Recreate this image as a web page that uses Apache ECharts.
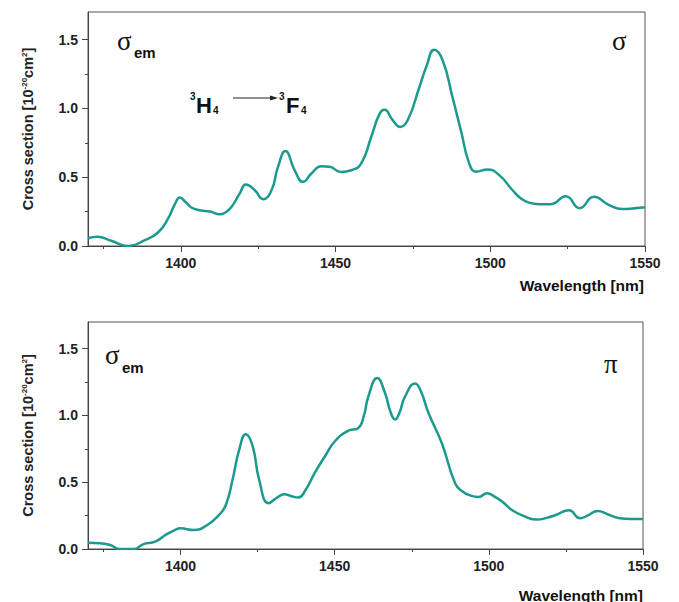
<!DOCTYPE html>
<html><head><meta charset="utf-8">
<script src="https://cdn.jsdelivr.net/npm/echarts@6/dist/echarts.min.js"></script>
<style>html,body{margin:0;padding:0;background:#fff}#c{width:679px;height:602px}</style>
</head><body><div id="c"></div>
<script>
// sigma polarisation (top panel)
const sigmaWl = [1370,1373,1377.5,1383,1388.4,1392.7,1395.9,1398,1399.7,1401.5,1403.4,1406.1,1409.5,1412.6,1414.5,1416.4,1419,1421,1423.9,1426.6,1429.3,1431.4,1433.8,1436.8,1439.5,1442.2,1445.4,1448.1,1451.8,1455.1,1458.3,1461.5,1464.2,1465.8,1468.5,1470.9,1473.3,1477.1,1479.3,1481.9,1484.6,1487.8,1490.5,1493.2,1495.4,1499.1,1502.9,1507.2,1509.9,1512.5,1515.8,1519.6,1524.4,1528.9,1533.5,1538.4,1542.7,1546,1549.1,1550];
const sigmaVal = [0.056,0.067,0.038,0.0,0.043,0.10,0.2,0.3,0.353,0.32,0.28,0.26,0.25,0.23,0.245,0.285,0.38,0.447,0.405,0.34,0.405,0.575,0.69,0.55,0.466,0.527,0.58,0.575,0.538,0.55,0.6,0.79,0.96,0.99,0.913,0.865,0.913,1.155,1.30,1.425,1.35,1.08,0.84,0.6,0.54,0.556,0.515,0.405,0.345,0.315,0.304,0.304,0.362,0.275,0.357,0.297,0.268,0.272,0.28,0.28];
// pi polarisation (bottom panel)
const piWl = [1370,1373.9,1377.2,1380.4,1384.8,1388,1391.8,1395.1,1398,1400,1404.3,1408.7,1412.5,1414.7,1416.9,1419,1421.2,1423.4,1425.5,1428.6,1431,1433.7,1436,1438.2,1440.5,1443.5,1447,1450,1454.3,1457.6,1459.5,1460.9,1463.8,1466.3,1468.2,1469.6,1471,1472.8,1476.1,1478,1480.4,1484.8,1489.1,1491.5,1493.5,1496.7,1499.4,1502,1504.3,1507.6,1511,1515.7,1519,1521.7,1526,1529.6,1532,1535.3,1538.5,1542.4,1546,1550];
const piVal = [0.047,0.043,0.03,0.0,0.0,0.037,0.055,0.105,0.14,0.155,0.142,0.18,0.255,0.33,0.52,0.74,0.86,0.77,0.52,0.343,0.38,0.41,0.395,0.385,0.44,0.568,0.7,0.805,0.885,0.905,1.0,1.14,1.28,1.17,1.02,0.97,1.02,1.14,1.24,1.18,1.02,0.79,0.49,0.43,0.405,0.39,0.418,0.39,0.355,0.29,0.25,0.22,0.235,0.255,0.29,0.23,0.25,0.285,0.26,0.23,0.224,0.225];

const xMajorTicks = [1400,1450,1500,1550];
const xMinorTicks = [1375,1425,1475,1525];
const yMajorTicks = [0,0.5,1.0,1.5];
const yMinorTicks = [0.25,0.75,1.25];

const FONT = "'Liberation Sans', Arial, sans-serif";
const SERIF = "'Liberation Serif', 'Times New Roman', serif";
const LINE = '#1b9a8d';
const AX = '#444';

function pairs(xs, ys){ return xs.map((x,i)=>[x, ys[i]]); }

function xAxes(g){
  return [
    {gridIndex:g, type:'value', min:1370, max:1550, position:'bottom',
     axisLine:{show:true, lineStyle:{color:AX, width:1}},
     axisTick:{show:true, customValues:xMajorTicks, length:6, lineStyle:{color:AX}},
     axisLabel:{customValues:xMajorTicks, margin:10, formatter:v=>String(v), fontFamily:FONT, fontSize:14, fontWeight:'bold', color:'#222'},
     splitLine:{show:false}},
    {gridIndex:g, type:'value', min:1370, max:1550, position:'bottom',
     axisLine:{show:false},
     axisTick:{show:true, customValues:xMinorTicks, length:3, lineStyle:{color:AX}},
     axisLabel:{show:false}, splitLine:{show:false}}
  ];
}
function yAxes(g){
  return [
    {gridIndex:g, type:'value', min:0, max:1.7, position:'left',
     axisLine:{show:true, lineStyle:{color:AX, width:1}},
     axisTick:{show:true, customValues:yMajorTicks, length:6, lineStyle:{color:AX}},
     axisLabel:{customValues:yMajorTicks, margin:10, formatter:v=>v.toFixed(1), fontFamily:FONT, fontSize:14, fontWeight:'bold', color:'#222'},
     splitLine:{show:false},
     name:'Cross section [10{sup|-20}cm{sup|2}]', nameLocation:'middle', nameGap:52, nameRotate:90,
     nameTextStyle:{fontFamily:FONT, fontSize:14.5, fontWeight:'bold', color:'#222', lineHeight:16,
       rich:{sup:{fontFamily:FONT, fontSize:8, fontWeight:'bold', color:'#222', verticalAlign:'top', lineHeight:10}}}},
    {gridIndex:g, type:'value', min:0, max:1.7, position:'left',
     axisLine:{show:false},
     axisTick:{show:true, customValues:yMinorTicks, length:3, lineStyle:{color:AX}},
     axisLabel:{show:false}, splitLine:{show:false}}
  ];
}

function txt(x, y, text, size, family, weight, align){
  return {type:'text', x:x, y:y, style:{text:text, fontSize:size, fontFamily:family, fontWeight:weight||'normal', fill:'#111', align:align||'left', verticalAlign:'middle'}};
}

const chart = echarts.init(document.getElementById('c'), null, {renderer:'svg'});
chart.setOption({
  animation:false,
  backgroundColor:'#fff',
  grid:[
    {left:88, top:12, width:557, height:234, show:true, borderColor:'#555', borderWidth:1},
    {left:88, top:322, width:555, height:227, show:true, borderColor:'#555', borderWidth:1}
  ],
  xAxis:[...xAxes(0), ...xAxes(1)],
  yAxis:[...yAxes(0), ...yAxes(1)],
  series:[
    {type:'line', xAxisIndex:0, yAxisIndex:0, data:pairs(sigmaWl, sigmaVal), showSymbol:false, smooth:0.5,
     lineStyle:{color:LINE, width:2.5}},
    {type:'line', xAxisIndex:2, yAxisIndex:2, data:pairs(piWl, piVal), showSymbol:false, smooth:0.5,
     lineStyle:{color:LINE, width:2.5}}
  ],
  graphic:[
    txt(644, 285, 'Wavelength [nm]', 15.5, FONT, 'bold', 'right'),
    txt(643, 595, 'Wavelength [nm]', 15.5, FONT, 'bold', 'right'),
    txt(117, 41, 'σ', 27, SERIF),
    txt(134, 52, 'em', 15, FONT, 'bold'),
    txt(612, 41, 'σ', 27, SERIF),
    txt(105, 355, 'σ', 27, SERIF),
    txt(122, 367, 'em', 15, FONT, 'bold'),
    txt(604, 364, 'π', 27, SERIF),
    txt(190, 96, '3', 10, FONT, 'bold'),
    txt(196, 105, 'H', 22, FONT, 'bold'),
    txt(213, 110, '4', 10, FONT, 'bold'),
    txt(279, 96, '3', 10, FONT, 'bold'),
    txt(286, 105, 'F', 22, FONT, 'bold'),
    txt(301, 110, '4', 10, FONT, 'bold'),
    {type:'line', shape:{x1:233, y1:98, x2:272, y2:98}, style:{stroke:'#222', lineWidth:1}},
    {type:'polygon', shape:{points:[[278,98],[270,95.5],[270,100.5]]}, style:{fill:'#222'}}
  ]
});
</script></body></html>
